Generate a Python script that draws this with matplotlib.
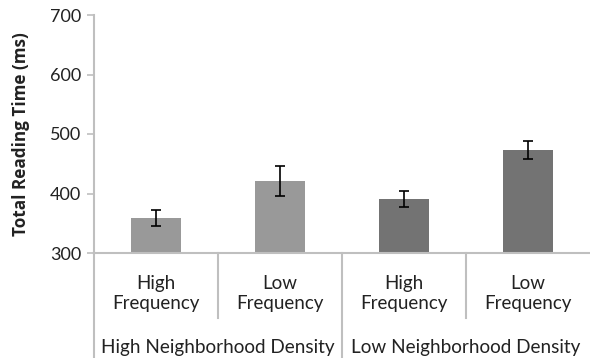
import matplotlib.pyplot as plt

conditions = ["High\nFrequency", "Low\nFrequency", "High\nFrequency", "Low\nFrequency"]
groups = ["High Neighborhood Density", "Low Neighborhood Density"]
reading_time = [359, 421, 391, 473]
errors = [13.5, 24.5, 14, 14.5]
bar_colors = ["#999999", "#999999", "#737373", "#737373"]

plt.rcParams['font.family'] = ['Lato', 'DejaVu Sans']
axis_gray = "#bfbfbf"

fig = plt.figure(figsize=(5.9, 3.58), dpi=100)
ax = fig.add_axes([94 / 590, 1 - 253 / 358, 1 - 94 / 590, 238 / 358])

xs = [i + 0.5 for i in range(len(reading_time))]
ax.bar(xs, [v - 300 for v in reading_time], bottom=300, width=0.4, color=bar_colors)
ax.errorbar(xs, reading_time, yerr=errors, fmt='none', ecolor='black',
            elinewidth=1.2, capsize=3.5, capthick=1.2)

ax.set_xlim(0, 4)
ax.set_ylim(300, 700)
ax.set_yticks([300, 400, 500, 600, 700])
ax.set_xticks([])
ax.tick_params(axis='y', labelsize=13, length=5, color=axis_gray, width=1.2, pad=4,
               labelcolor='#222222')
for s in ['top', 'right']:
    ax.spines[s].set_visible(False)
for s in ['left', 'bottom']:
    ax.spines[s].set_color(axis_gray)
    ax.spines[s].set_linewidth(1.5)
ax.set_ylabel("Total Reading Time (ms)", fontsize=12.3, fontweight='bold',
              family=['Open Sans', 'DejaVu Sans'], color='#222222')
ax.yaxis.set_label_coords(-0.13, 0.5)

# two-level category axis below the bars
tr = ax.get_xaxis_transform()
for x in [1, 3]:
    ax.plot([x, x], [0, -0.273], transform=tr, color=axis_gray, lw=1.5, clip_on=False)
for x in [0, 2]:
    ax.plot([x, x], [0, -0.45], transform=tr, color=axis_gray, lw=1.5, clip_on=False)
for x, lab in zip(xs, conditions):
    ax.text(x, -0.17, lab, transform=tr, ha='center', va='center', fontsize=13.5,
            linespacing=1.25, color='#222222')
for i, g in enumerate(groups):
    ax.text(2 * i + 1, -0.395, g, transform=tr, ha='center', va='center', fontsize=13.6,
            color='#222222')

fig.savefig("out.png", dpi=100)
